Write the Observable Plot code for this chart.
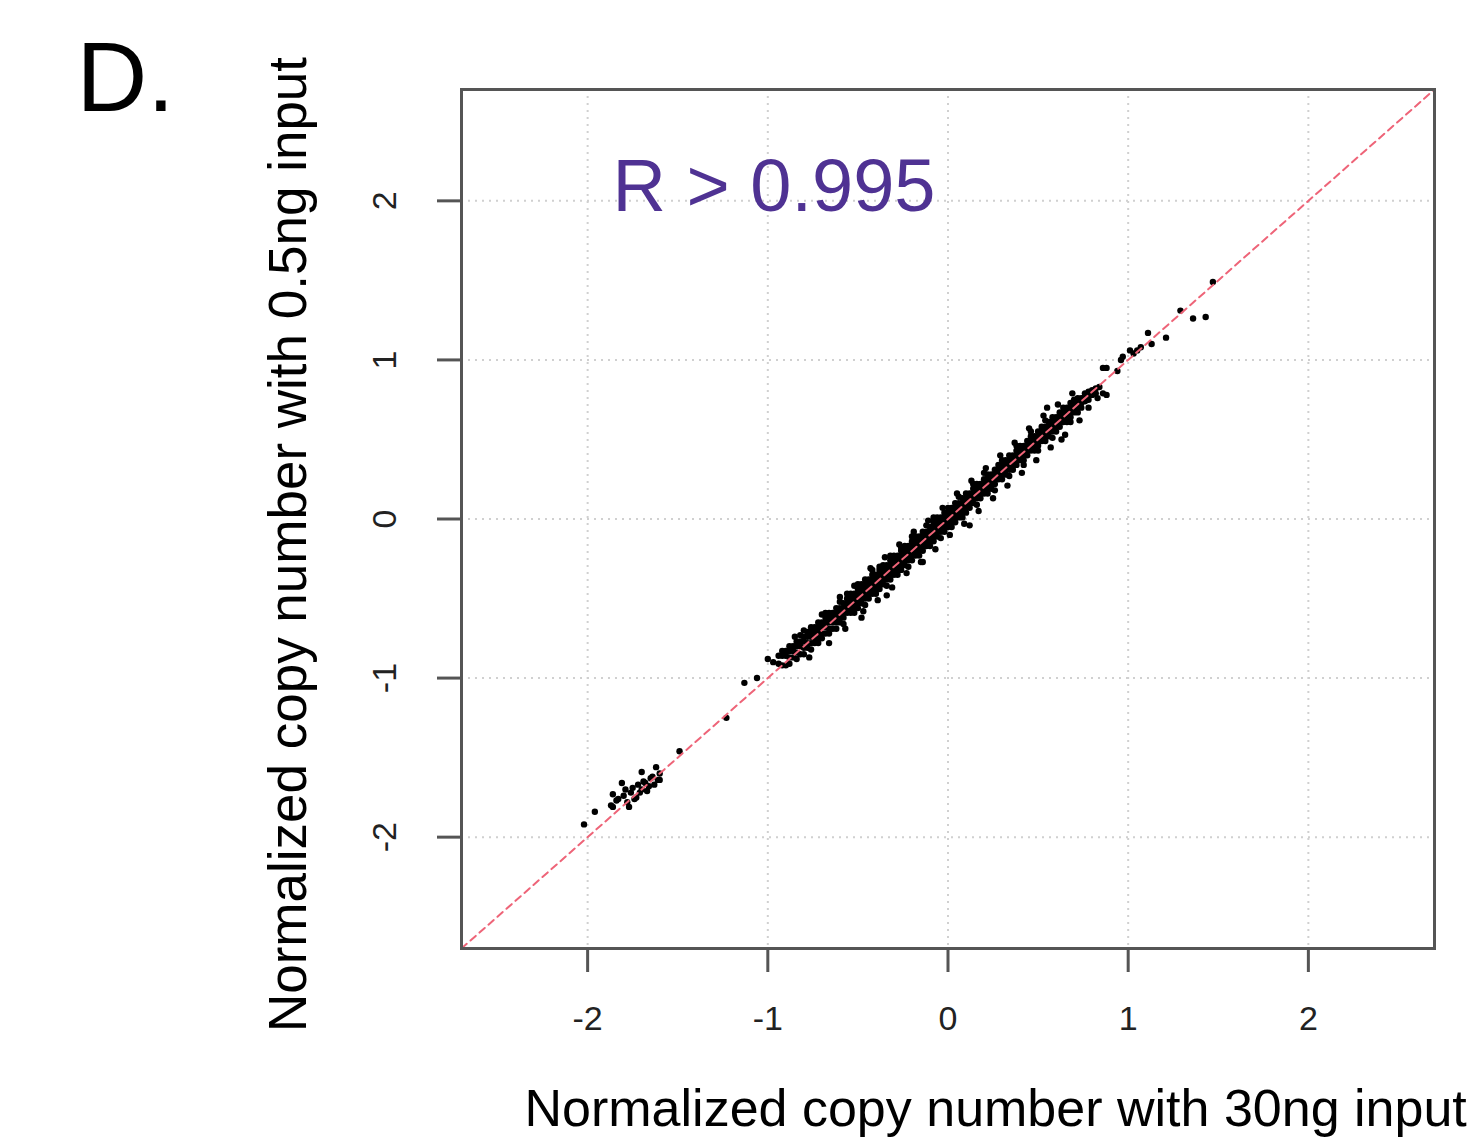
<!DOCTYPE html>
<html><head><meta charset="utf-8">
<script src="https://cdn.jsdelivr.net/npm/d3@7"></script>
<script src="https://cdn.jsdelivr.net/npm/@observablehq/plot@0.6"></script>
<style>body{margin:0;background:#fff;} #chart svg{display:block;overflow:visible}</style>
</head><body><div id="chart"></div>
<script>
const xTicks = [-2, -1, 0, 1, 2];
const yTicks = [-2, -1, 0, 1, 2];
const domain = [-2.7, 2.7];
const panelLabel = "D.";
const rLabel = "R > 0.995";
const xTitle = "Normalized copy number with 30ng input";
const yTitle = "Normalized copy number with 0.5ng input";

// [30ng input, 0.5ng input]
const lowCluster = [
  [-2.02,-1.92],[-1.96,-1.84],[-1.87,-1.80],[-1.86,-1.73],[-1.86,-1.81],[-1.84,-1.77],[-1.83,-1.76],
  [-1.81,-1.66],[-1.80,-1.74],[-1.79,-1.70],[-1.78,-1.78],[-1.77,-1.81],[-1.76,-1.72],[-1.75,-1.69],
  [-1.74,-1.76],[-1.73,-1.75],[-1.72,-1.67],[-1.71,-1.72],[-1.70,-1.59],[-1.70,-1.70],[-1.69,-1.65],
  [-1.68,-1.66],[-1.67,-1.71],[-1.66,-1.68],[-1.65,-1.63],[-1.64,-1.62],[-1.63,-1.67],[-1.62,-1.56],
  [-1.61,-1.64],[-1.60,-1.64],[-1.60,-1.60],[-1.49,-1.46]
];
const bridge = [
  [-1.23,-1.25],[-1.13,-1.03],[-1.06,-1.00],[-1.00,-0.88],[-0.97,-0.90]
];
const mainBand = [
  [-0.94,-0.86],[-0.94,-0.91],
  [-0.92,-0.86],[-0.92,-0.92],[-0.92,-0.83],
  [-0.90,-0.86],[-0.90,-0.92],[-0.90,-0.83],
  [-0.88,-0.83],[-0.88,-0.87],[-0.88,-0.91],[-0.88,-0.80],
  [-0.86,-0.83],[-0.86,-0.87],[-0.86,-0.80],
  [-0.84,-0.80],[-0.84,-0.84],[-0.84,-0.88],[-0.84,-0.77],
  [-0.82,-0.80],[-0.82,-0.85],[-0.82,-0.77],[-0.82,-0.73],
  [-0.80,-0.77],[-0.80,-0.81],[-0.80,-0.85],[-0.80,-0.74],
  [-0.78,-0.74],[-0.78,-0.78],[-0.78,-0.81],[-0.78,-0.71],
  [-0.76,-0.74],[-0.76,-0.78],[-0.76,-0.82],[-0.76,-0.71],[-0.76,-0.68],
  [-0.74,-0.71],[-0.74,-0.75],[-0.74,-0.78],[-0.74,-0.68],
  [-0.72,-0.71],[-0.72,-0.75],[-0.72,-0.68],[-0.72,-0.65],[-0.72,-0.78],
  [-0.70,-0.68],[-0.70,-0.72],[-0.70,-0.65],[-0.70,-0.75],
  [-0.68,-0.65],[-0.68,-0.68],[-0.68,-0.72],[-0.68,-0.62],[-0.68,-0.59],
  [-0.66,-0.65],[-0.66,-0.69],[-0.66,-0.62],[-0.66,-0.72],[-0.66,-0.59],
  [-0.64,-0.62],[-0.64,-0.65],[-0.64,-0.69],[-0.64,-0.59],
  [-0.62,-0.59],[-0.62,-0.62],[-0.62,-0.65],[-0.62,-0.56],[-0.62,-0.69],
  [-0.60,-0.59],[-0.60,-0.62],[-0.60,-0.56],[-0.60,-0.65],[-0.60,-0.52],
  [-0.58,-0.56],[-0.58,-0.59],[-0.58,-0.53],[-0.58,-0.62],[-0.58,-0.66],
  [-0.56,-0.53],[-0.56,-0.56],[-0.56,-0.59],[-0.56,-0.50],[-0.56,-0.47],
  [-0.54,-0.53],[-0.54,-0.56],[-0.54,-0.50],[-0.54,-0.59],[-0.54,-0.47],
  [-0.52,-0.50],[-0.52,-0.53],[-0.52,-0.47],[-0.52,-0.56],[-0.52,-0.59],
  [-0.50,-0.47],[-0.50,-0.50],[-0.50,-0.53],[-0.50,-0.44],[-0.50,-0.56],[-0.50,-0.41],
  [-0.48,-0.47],[-0.48,-0.50],[-0.48,-0.44],[-0.48,-0.53],[-0.48,-0.41],[-0.48,-0.62],
  [-0.46,-0.44],[-0.46,-0.47],[-0.46,-0.41],[-0.46,-0.50],[-0.46,-0.54],[-0.46,-0.38],
  [-0.44,-0.41],[-0.44,-0.44],[-0.44,-0.47],[-0.44,-0.38],[-0.44,-0.50],
  [-0.42,-0.41],[-0.42,-0.44],[-0.42,-0.38],[-0.42,-0.47],[-0.42,-0.35],[-0.42,-0.32],
  [-0.40,-0.38],[-0.40,-0.41],[-0.40,-0.35],[-0.40,-0.44],[-0.40,-0.47],
  [-0.38,-0.35],[-0.38,-0.38],[-0.38,-0.41],[-0.38,-0.32],[-0.38,-0.44],[-0.38,-0.30],
  [-0.36,-0.35],[-0.36,-0.38],[-0.36,-0.32],[-0.36,-0.41],[-0.36,-0.29],
  [-0.34,-0.32],[-0.34,-0.35],[-0.34,-0.29],[-0.34,-0.38],[-0.34,-0.42],[-0.34,-0.48],
  [-0.32,-0.29],[-0.32,-0.32],[-0.32,-0.35],[-0.32,-0.26],[-0.32,-0.38],[-0.32,-0.23],
  [-0.30,-0.29],[-0.30,-0.32],[-0.30,-0.26],[-0.30,-0.35],[-0.30,-0.23],
  [-0.28,-0.26],[-0.28,-0.29],[-0.28,-0.23],[-0.28,-0.32],[-0.28,-0.35],
  [-0.26,-0.23],[-0.26,-0.26],[-0.26,-0.29],[-0.26,-0.20],[-0.26,-0.32],[-0.26,-0.18],
  [-0.24,-0.23],[-0.24,-0.26],[-0.24,-0.20],[-0.24,-0.29],[-0.24,-0.17],
  [-0.22,-0.20],[-0.22,-0.23],[-0.22,-0.17],[-0.22,-0.26],[-0.22,-0.30],
  [-0.20,-0.17],[-0.20,-0.20],[-0.20,-0.23],[-0.20,-0.14],[-0.20,-0.26],[-0.20,-0.11],
  [-0.18,-0.17],[-0.18,-0.20],[-0.18,-0.14],[-0.18,-0.23],[-0.18,-0.11],
  [-0.16,-0.14],[-0.16,-0.17],[-0.16,-0.11],[-0.16,-0.20],[-0.16,-0.23],
  [-0.14,-0.11],[-0.14,-0.14],[-0.14,-0.17],[-0.14,-0.08],[-0.14,-0.20],[-0.14,-0.27],
  [-0.12,-0.11],[-0.12,-0.14],[-0.12,-0.08],[-0.12,-0.17],[-0.12,-0.04],
  [-0.10,-0.08],[-0.10,-0.11],[-0.10,-0.05],[-0.10,-0.14],[-0.10,-0.17],
  [-0.08,-0.05],[-0.08,-0.08],[-0.08,-0.11],[-0.08,-0.02],[-0.08,-0.14],[-0.08,0.01],
  [-0.06,-0.05],[-0.06,-0.08],[-0.06,-0.02],[-0.06,-0.11],[-0.06,0.01],
  [-0.04,-0.02],[-0.04,-0.05],[-0.04,0.01],[-0.04,-0.08],[-0.04,-0.12],
  [-0.02,0.01],[-0.02,-0.02],[-0.02,-0.05],[-0.02,0.04],[-0.02,-0.08],
  [0.00,0.01],[0.00,-0.02],[0.00,0.04],[0.00,-0.05],[0.00,0.07],
  [0.02,0.04],[0.02,0.01],[0.02,0.07],[0.02,-0.02],[0.02,-0.05],
  [0.04,0.07],[0.04,0.04],[0.04,0.01],[0.04,0.10],[0.04,-0.02],
  [0.06,0.07],[0.06,0.04],[0.06,0.10],[0.06,0.01],[0.06,0.14],
  [0.08,0.10],[0.08,0.07],[0.08,0.13],[0.08,0.04],[0.08,0.01],
  [0.10,0.13],[0.10,0.10],[0.10,0.07],[0.10,0.16],[0.10,0.04],
  [0.12,0.13],[0.12,0.10],[0.12,0.16],[0.12,0.07],[0.12,-0.04],
  [0.14,0.16],[0.14,0.13],[0.14,0.19],[0.14,0.10],[0.14,0.22],
  [0.16,0.19],[0.16,0.16],[0.16,0.13],[0.16,0.22],[0.16,0.09],
  [0.18,0.19],[0.18,0.16],[0.18,0.22],[0.18,0.13],
  [0.20,0.22],[0.20,0.19],[0.20,0.25],[0.20,0.16],[0.20,0.29],
  [0.22,0.25],[0.22,0.22],[0.22,0.19],[0.22,0.28],[0.22,0.16],
  [0.24,0.25],[0.24,0.22],[0.24,0.28],[0.24,0.19],
  [0.26,0.28],[0.26,0.25],[0.26,0.31],[0.26,0.22],[0.26,0.18],
  [0.28,0.31],[0.28,0.28],[0.28,0.25],[0.28,0.34],
  [0.30,0.31],[0.30,0.28],[0.30,0.34],[0.30,0.25],[0.30,0.37],
  [0.32,0.34],[0.32,0.31],[0.32,0.37],[0.32,0.28],
  [0.34,0.37],[0.34,0.34],[0.34,0.31],[0.34,0.40],[0.34,0.27],
  [0.36,0.37],[0.36,0.34],[0.36,0.40],[0.36,0.31],
  [0.38,0.40],[0.38,0.37],[0.38,0.43],[0.38,0.34],[0.38,0.46],
  [0.40,0.43],[0.40,0.40],[0.40,0.37],[0.40,0.46],
  [0.42,0.43],[0.42,0.40],[0.42,0.46],[0.42,0.37],[0.42,0.34],
  [0.44,0.46],[0.44,0.43],[0.44,0.49],[0.44,0.40],
  [0.46,0.49],[0.46,0.46],[0.46,0.43],[0.46,0.52],[0.46,0.55],
  [0.48,0.49],[0.48,0.46],[0.48,0.52],[0.48,0.43],
  [0.50,0.52],[0.50,0.49],[0.50,0.55],[0.50,0.46],[0.50,0.43],
  [0.52,0.55],[0.52,0.52],[0.52,0.49],[0.52,0.58],
  [0.54,0.55],[0.54,0.52],[0.54,0.58],[0.54,0.49],[0.54,0.62],
  [0.56,0.58],[0.56,0.55],[0.56,0.61],[0.56,0.52],[0.55,0.70],
  [0.58,0.61],[0.58,0.58],[0.58,0.55],[0.58,0.64],[0.58,0.51],
  [0.60,0.61],[0.60,0.58],[0.60,0.64],[0.60,0.55],
  [0.62,0.64],[0.62,0.61],[0.62,0.67],[0.62,0.58],[0.63,0.50],
  [0.64,0.67],[0.64,0.64],[0.64,0.61],[0.64,0.70],
  [0.66,0.67],[0.66,0.64],[0.66,0.70],[0.66,0.61],
  [0.68,0.70],[0.68,0.67],[0.68,0.73],[0.68,0.64],[0.68,0.61],
  [0.70,0.73],[0.70,0.70],[0.70,0.67],[0.70,0.75],
  [0.72,0.73],[0.72,0.70],[0.72,0.76],[0.72,0.67],
  [0.74,0.76],[0.74,0.73],[0.74,0.70],
  [0.76,0.77],[0.76,0.74],[0.76,0.79],
  [0.78,0.78],[0.78,0.75],[0.78,0.80],
  [0.80,0.81],[0.80,0.78],
  [0.82,0.82],[0.82,0.79],
  [0.84,0.83],[0.86,0.79],[0.88,0.78]
];
const fringe = [
  [-0.85,-0.74],[-0.80,-0.70],[-0.77,-0.87],[-0.70,-0.60],[-0.66,-0.78],[-0.60,-0.49],[-0.57,-0.69],
  [-0.52,-0.42],[-0.47,-0.58],[-0.43,-0.31],[-0.39,-0.51],[-0.35,-0.24],[-0.31,-0.43],[-0.27,-0.16],
  [-0.23,-0.34],[-0.19,-0.08],[-0.15,-0.27],[-0.11,-0.01],[-0.07,-0.19],[-0.03,0.07],[0.01,-0.10],
  [0.05,0.16],[0.09,-0.03],[0.13,0.24],[0.17,0.05],[0.21,0.32],[0.25,0.13],[0.29,0.40],[0.33,0.21],
  [0.37,0.48],[0.41,0.29],[0.45,0.57],[0.49,0.37],[0.53,0.65],[0.57,0.45],[0.61,0.72],[0.65,0.53],
  [0.69,0.79],[0.73,0.62],[0.78,0.70],[0.83,0.76]
];
const highTail = [
  [0.86,0.95],[0.88,0.95],[0.94,0.93],[0.96,1.00],[0.97,1.02],[1.01,1.06],[1.03,1.04],
  [1.05,1.06],[1.07,1.08],[1.11,1.17],[1.13,1.10],[1.21,1.14],[1.29,1.31],[1.36,1.26],
  [1.43,1.27],[1.47,1.49]
];
const points = [...lowCluster, ...bridge, ...mainBand, ...fringe, ...highTail];

const font = "'Liberation Sans', Arial, Helvetica, sans-serif";
const fmt = d => String(d);
const chart = Plot.plot({
  width: 1475, height: 1137,
  marginLeft: 461, marginRight: 41, marginTop: 89, marginBottom: 189,
  style: {fontFamily: font, background: "#fff", overflow: "visible"},
  x: {domain, ticks: xTicks},
  y: {domain, ticks: yTicks},
  marks: [
    Plot.gridX(xTicks, {stroke: "#d0d0d0", strokeOpacity: 1, strokeWidth: 2, strokeDasharray: "2,5"}),
    Plot.gridY(yTicks, {stroke: "#d0d0d0", strokeOpacity: 1, strokeWidth: 2, strokeDasharray: "2,5"}),
    Plot.dot(points, {x: d => d[0], y: d => d[1], r: 3.2, fill: "#000", stroke: null}),
    Plot.line(domain, {x: d => d, y: d => d, stroke: "#ee6478", strokeWidth: 2, strokeDasharray: "7,5"}),
    Plot.frame({stroke: "#555", strokeWidth: 3}),
    Plot.axisX(xTicks, {tickSize: 24, tickPadding: 33, fontSize: 34, stroke: "#555", strokeWidth: 3, color: "#222", tickFormat: fmt, label: null}),
    Plot.axisY(yTicks, {tickSize: 24, stroke: "#555", strokeWidth: 3, tickFormat: () => "", label: null}),
    Plot.axisY(yTicks, {tickSize: 0, tickPadding: 76, fontSize: 34, color: "#222", rotate: -90, textAnchor: "middle", tickFormat: fmt, label: null}),
    Plot.text([rLabel], {text: d => d, frameAnchor: "top-left", dx: 612 - 461, dy: 210 - 89, textAnchor: "start", lineAnchor: "bottom", fontSize: 74, fill: "#4f3293"}),
    Plot.text([panelLabel], {text: d => d, frameAnchor: "top-left", dx: 76 - 461, dy: 110 - 89, textAnchor: "start", lineAnchor: "bottom", fontSize: 98, fill: "#000"}),
    Plot.text([xTitle], {text: d => d, frameAnchor: "bottom-left", dx: 524 - 461, dy: 1125 - 948, textAnchor: "start", lineAnchor: "bottom", fontSize: 52, fill: "#000"}),
    Plot.text([yTitle], {text: d => d, frameAnchor: "left", dx: 305 - 461, dy: 544 - 518.5, rotate: -90, textAnchor: "middle", lineAnchor: "bottom", fontSize: 53, fill: "#000"})
  ]
});
document.getElementById("chart").appendChild(chart);
</script>
</body></html>
